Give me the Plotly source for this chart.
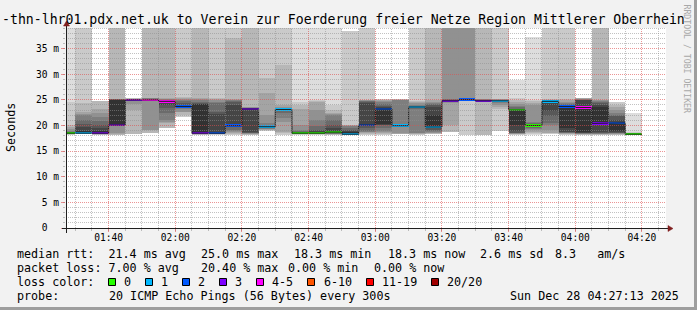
import math
from datetime import datetime, timedelta
import plotly.graph_objects as go

# ---------------- data ----------------
DAY = "2025-12-28"
T_START = "2025-12-28 01:27:13"
T_END = "2025-12-28 04:27:13"
STEP_MIN = 5
PINGS = 20
Y_MAX = 39.0

BIN_START = ["01:25", "01:30", "01:35", "01:40", "01:45", "01:50", "01:55",
             "02:00", "02:05", "02:10", "02:15", "02:20", "02:25", "02:30",
             "02:35", "02:40", "02:45", "02:50", "02:55", "03:00", "03:05",
             "03:10", "03:15", "03:20", "03:25", "03:30", "03:35", "03:40",
             "03:45", "03:50", "03:55", "04:00", "04:05", "04:10", "04:15"]

# received ping round-trip times per 5-minute step, ms, sorted (45 = off the top of the chart)
RTT = [
    [18.1, 18.2, 18.3, 18.3, 18.3, 18.4, 18.4, 18.4, 18.4, 18.4, 18.5, 18.5, 18.6, 18.8, 19.0, 19.3, 19.7, 20.1, 24.6, 45],
    [18.2, 18.3, 18.3, 18.3, 18.4, 18.4, 18.4, 18.4, 18.4, 18.5, 19.0, 19.6, 20.3, 21.0, 22.0, 22.3, 22.7, 24.3, 45],
    [18.1, 18.2, 18.3, 18.3, 18.4, 18.4, 18.4, 18.4, 18.5, 18.9, 19.5, 20.1, 20.8, 21.7, 22.5, 23.3, 24.8],
    [18.1, 18.1, 18.4, 18.5, 20.0, 20.1, 20.1, 20.1, 20.1, 25.0, 25.0, 25.1, 25.1, 25.1, 25.2, 25.2, 45],
    [18.2, 18.4, 23.0, 24.2, 24.7, 24.8, 24.9, 24.9, 24.95, 25.0, 25.0, 25.1, 25.1, 25.1, 25.2, 25.2, 25.3],
    [18.5, 19.1, 19.2, 24.8, 24.9, 24.9, 25.0, 25.0, 25.0, 25.1, 25.2, 25.2, 25.3, 25.3, 25.4, 45],
    [19.5, 20.4, 20.6, 21.0, 22.5, 23.4, 24.0, 24.4, 24.7, 24.8, 24.9, 25.0, 25.1, 25.2, 25.4, 45],
    [21.7, 22.0, 22.6, 22.7, 23.2, 23.4, 23.5, 23.6, 23.65, 23.7, 24.0, 24.4, 24.8, 25.0, 25.2, 25.3, 25.5, 45],
    [18.1, 18.2, 18.3, 18.3, 18.4, 18.4, 18.4, 18.45, 18.5, 24.1, 24.2, 24.3, 24.6, 24.9, 25.1, 25.3, 45],
    [18.2, 18.3, 18.3, 18.4, 18.4, 18.4, 18.45, 18.45, 18.5, 18.5, 22.3, 22.6, 24.3, 24.6, 25.0, 25.2, 25.3, 45],
    [18.2, 18.3, 18.6, 18.8, 18.9, 19.2, 19.6, 19.8, 19.9, 19.95, 24.0, 24.5, 24.7, 24.9, 25.0, 25.2, 37.0, 45],
    [18.1, 18.2, 18.3, 18.4, 18.5, 18.5, 18.6, 18.7, 23.2, 23.3, 23.3, 23.4, 23.4, 23.4, 23.5, 23.5, 45],
    [18.5, 18.9, 19.1, 19.2, 19.3, 19.4, 19.5, 19.6, 19.7, 19.75, 19.8, 19.9, 19.95, 20.1, 20.5, 22.0, 26.3, 29.2, 45],
    [18.1, 18.2, 18.5, 18.8, 20.7, 21.5, 22.4, 22.8, 23.0, 23.1, 23.15, 23.2, 23.2, 23.3, 23.4, 23.6, 23.9, 31.8, 45],
    [18.1, 18.2, 18.3, 18.3, 18.3, 18.4, 18.4, 18.4, 18.4, 18.45, 18.5, 18.6, 18.7, 18.9, 19.1, 20.1, 23.3, 24.0, 24.6, 45],
    [18.1, 18.2, 18.3, 18.3, 18.3, 18.4, 18.4, 18.4, 18.4, 18.5, 18.5, 18.9, 19.2, 19.8, 21.0, 23.0, 24.5, 24.8, 25.0, 45],
    [18.1, 18.2, 18.2, 18.3, 18.3, 18.4, 18.4, 18.5, 18.5, 18.6, 18.7, 19.5, 20.1, 21.0, 22.0, 22.3, 22.5, 23.0, 23.9, 45],
    [18.1, 18.1, 18.1, 18.2, 18.2, 18.2, 18.2, 18.3, 18.3, 18.3, 18.8, 19.0, 19.2, 19.5, 19.8, 19.9, 20.0, 20.1, 38.5],
    [18.2, 18.3, 18.5, 18.7, 18.8, 19.0, 19.5, 19.8, 20.0, 20.1, 24.4, 24.6, 24.7, 24.8, 24.9, 24.95, 25.0, 45],
    [18.1, 18.3, 18.5, 18.7, 19.0, 19.5, 20.0, 20.1, 20.3, 23.2, 23.5, 23.8, 24.2, 24.5, 24.7, 24.9, 25.0, 25.1],
    [18.2, 18.3, 18.4, 18.4, 18.5, 19.8, 19.85, 19.9, 19.9, 19.95, 20.0, 20.0, 20.1, 20.2, 24.9, 25.0, 25.0, 25.1, 25.2],
    [18.1, 18.2, 18.3, 18.4, 18.5, 18.6, 23.2, 23.4, 23.5, 23.6, 23.6, 23.65, 23.7, 23.8, 24.0, 24.3, 24.6, 24.8, 45],
    [18.1, 18.3, 18.4, 18.5, 18.6, 18.8, 19.0, 19.2, 19.5, 19.7, 22.0, 23.5, 23.9, 24.1, 24.3, 24.6, 25.0, 45, 45],
    [18.3, 18.8, 20.1, 24.4, 24.5, 24.6, 24.7, 24.75, 24.8, 24.9, 25.0, 25.0, 25.1, 25.2, 45, 45, 45],
    [18.2, 24.8, 24.85, 24.9, 24.95, 25.0, 25.0, 25.0, 25.0, 25.05, 25.1, 25.2, 25.3, 25.4, 45, 45, 45, 45],
    [18.1, 18.1, 24.5, 24.6, 24.7, 24.7, 24.75, 24.8, 24.8, 24.9, 24.9, 25.0, 25.0, 25.1, 25.1, 25.2, 45],
    [18.4, 19.0, 23.2, 23.6, 24.0, 24.4, 24.6, 24.7, 24.75, 24.8, 24.85, 24.9, 24.95, 25.0, 25.0, 25.1, 25.1, 25.2, 45],
    [18.1, 18.2, 18.3, 18.4, 18.4, 18.5, 18.5, 18.6, 19.0, 20.1, 23.0, 23.1, 23.3, 23.5, 23.8, 24.2, 24.6, 25.0, 25.3, 28.9],
    [18.1, 18.3, 18.5, 18.8, 19.1, 19.3, 19.5, 19.7, 19.8, 19.9, 20.0, 20.1, 20.2, 20.4, 20.6, 24.0, 24.4, 24.8, 25.0, 37.3],
    [18.2, 18.4, 18.5, 18.6, 19.2, 20.0, 20.5, 21.8, 22.8, 24.7, 24.8, 24.85, 24.9, 24.9, 24.95, 25.0, 25.0, 25.1, 45],
    [18.2, 18.3, 18.4, 18.5, 18.5, 18.6, 18.7, 18.8, 19.5, 23.7, 23.8, 24.0, 24.2, 24.4, 24.6, 24.9, 25.2, 45],
    [18.2, 18.3, 18.4, 18.4, 18.5, 18.5, 18.6, 18.8, 23.5, 24.9, 25.0, 25.0, 25.1, 25.2, 25.3, 25.4],
    [18.1, 18.2, 18.3, 18.4, 18.4, 18.5, 18.5, 18.7, 20.4, 23.5, 24.0, 24.4, 24.6, 24.8, 24.9, 25.0, 45],
    [18.1, 18.2, 18.3, 18.4, 18.5, 18.5, 18.6, 18.7, 19.0, 20.5, 21.0, 21.8, 22.0, 22.5, 23.0, 23.5, 24.0, 24.5],
    [18.1, 18.2, 18.2, 18.2, 18.3, 18.3, 18.3, 18.3, 18.3, 18.3, 18.3, 18.4, 18.4, 18.4, 18.5, 18.5, 18.6, 18.6, 18.7, 22.4],
]

LOSS_LABELS = ["0", "1", "2", "3", "4-5", "6-10", "11-19", "20/20"]
LOSS_MAX = [0, 1, 2, 3, 5, 10, 19, 20]
LOSS_COLORS = ["#26ff00", "#00b8ff", "#0059ff", "#7e00ff", "#ff00ff", "#ff5500", "#ff0000", "#a10000"]

X_TICKS = ["01:40", "02:00", "02:20", "02:40", "03:00", "03:20", "03:40", "04:00", "04:20"]
Y_TICKS = [0, 5, 10, 15, 20, 25, 30, 35]
Y_TICK_TEXT = ["0\u00a0\u00a0"] + [f"{v}\u00a0m" for v in Y_TICKS[1:]]

TITLE = "-thn-lhr01.pdx.net.uk to Verein zur Foerderung freier Netze Region Mittlerer Oberrhein"
Y_TITLE = "Seconds"
WATERMARK = "RRDTOOL / TOBI OETIKER"
STATS_RTT = ["median rtt:  21.4 ms avg", "25.0 ms max", "18.3 ms min", "18.3 ms now", "2.6 ms sd", "8.3   am/s"]
STATS_LOSS = ["packet loss: 7.00 % avg", "20.40 % max", "0.00 % min", "0.00 % now"]
LOSS_HEAD = "loss color:"
PROBE = ["probe:", "20 ICMP Echo Pings (56 Bytes) every 300s"]
STAMP = "Sun Dec 28 04:27:13 2025"

# ---------------- geometry / style ----------------
W, H = 697, 310
L, R, T, B = 66, 31, 28, 82
PW, PH = W - L - R, H - T - B
FONT = "DejaVu Sans Mono"
LEG_FS = 11.7
AX_FS = 9.6
CW = 7.05  # legend char advance

STATS_RTT_X = [16, 200, 293, 386.5, 479, 554]
STATS_LOSS_X = [16, 200, 287, 373]
PROBE_X = [16, 107.5]
LINE_BASE = [257.7, 271.7, 285.7, 299.6]


def nb(s):
    return s.replace(" ", "\u00a0")


def fx(p):  # pixel x -> paper
    return (p - L) / PW


def fy(p):  # pixel y -> paper
    return (T + PH - p) / PH


t0 = datetime.fromisoformat(T_START)
t1 = datetime.fromisoformat(T_END)


def xpix(t):
    return L + (t - t0).total_seconds() / (t1 - t0).total_seconds() * PW


def ypix(v):
    return T + PH - v / Y_MAX * PH


fig = go.Figure()

starts = [datetime.fromisoformat(f"{DAY} {s}:00") for s in BIN_START]
centers = [s + timedelta(minutes=STEP_MIN / 2) for s in starts]
ends = [s + timedelta(minutes=STEP_MIN) for s in starts]
bar_w = STEP_MIN * 60 * 1000

cps, medians, losses = [], [], []
for times in RTT:
    n = len(times)
    loss = PINGS - n
    lo = loss // 2
    cps.append([None] * lo + list(times) + [None] * (loss - lo))
    medians.append(times[n // 2])
    losses.append(loss)

# smoke: nested bands between the i-th fastest and i-th slowest ping
half = PINGS // 2
for ibot in range(1, half + 1):
    itop = PINGS + 1 - ibot
    g = int(190 / half * (half - ibot)) + 50
    xs, bs, hs = [], [], []
    for c, cp in zip(centers, cps):
        a, b = cp[ibot - 1], cp[itop - 1]
        if a is None or b is None:
            continue
        xs.append(c)
        bs.append(a)
        hs.append(b - a)
    if xs:
        fig.add_trace(go.Bar(x=xs, y=hs, base=bs, width=bar_w,
                             marker=dict(color=f"rgb({g},{g},{g})", line=dict(width=0)),
                             hoverinfo="skip", showlegend=False))

# median step line
mx, my = [], []
for s, e, m in zip(starts, ends, medians):
    mx += [s, e]
    my += [m, m]
fig.add_trace(go.Scatter(x=mx, y=my, mode="lines", line=dict(color="#202020", width=1),
                         hoverinfo="skip", showlegend=False))

# loss-coloured median marks
hw = 1.25 * Y_MAX / PH


def cat(loss):
    for i, m in enumerate(LOSS_MAX):
        if loss <= m:
            return i
    return len(LOSS_MAX) - 1


for ci, col in enumerate(LOSS_COLORS):
    idx = [k for k in range(len(RTT)) if cat(losses[k]) == ci]
    if not idx:
        continue
    fig.add_trace(go.Bar(x=[centers[k] for k in idx], y=[2 * hw] * len(idx),
                         base=[medians[k] - hw for k in idx], width=bar_w,
                         marker=dict(color=col, line=dict(width=0)),
                         hoverinfo="skip", showlegend=False))

shapes = []
GRID = "rgba(143,143,143,0.55)"
MGRID = "rgba(222,79,79,0.6)"
DASH = "1px,1px"

# horizontal grid
for v in range(1, int(Y_MAX) + 1):
    yp = math.floor(ypix(v)) + 0.5
    shapes.append(dict(type="line", xref="paper", yref="paper", x0=0, x1=1, y0=fy(yp), y1=fy(yp),
                       line=dict(color=MGRID if v % 5 == 0 else GRID, width=1, dash=DASH), layer="above"))
# vertical grid
t = datetime.fromisoformat(f"{DAY} 01:30:00")
while t < t1:
    xp = math.floor(xpix(t)) + 0.5
    shapes.append(dict(type="line", xref="paper", yref="paper", x0=fx(xp), x1=fx(xp), y0=0, y1=1,
                       line=dict(color=MGRID if t.minute % 20 == 0 else GRID, width=1, dash=DASH),
                       layer="above"))
    t += timedelta(minutes=STEP_MIN)

AXC = "#1f1f1f"
ARC = "rgb(128,31,31)"
# axes
shapes.append(dict(type="line", xref="paper", yref="paper", x0=fx(62), x1=fx(668), y0=fy(228.5), y1=fy(228.5),
                   line=dict(color=AXC, width=1), layer="above"))
shapes.append(dict(type="line", xref="paper", yref="paper", x0=fx(66.5), x1=fx(66.5), y0=fy(233), y1=fy(26),
                   line=dict(color=AXC, width=1), layer="above"))
shapes.append(dict(type="path", xref="paper", yref="paper",
                   path=f"M{fx(668)},{fy(225.5)} L{fx(673)},{fy(228.5)} L{fx(668)},{fy(231.5)} Z",
                   fillcolor=ARC, line=dict(color=ARC, width=0.5), layer="above"))
shapes.append(dict(type="path", xref="paper", yref="paper",
                   path=f"M{fx(63.5)},{fy(26)} L{fx(66.5)},{fy(21)} L{fx(69.5)},{fy(26)} Z",
                   fillcolor=ARC, line=dict(color=ARC, width=0.5), layer="above"))
# 3d frame
shapes.append(dict(type="rect", xref="paper", yref="paper", x0=fx(694), x1=fx(697), y0=fy(0), y1=fy(310),
                   fillcolor="#9e9e9e", line=dict(width=0), layer="above"))
shapes.append(dict(type="rect", xref="paper", yref="paper", x0=fx(0), x1=fx(697), y0=fy(307), y1=fy(310),
                   fillcolor="#9e9e9e", line=dict(width=0), layer="above"))

annotations = []


def text(s, x, y, size, anchor="left", angle=0, color="black", yanchor="middle"):
    annotations.append(dict(text=nb(s), x=fx(x), y=fy(y), xref="paper", yref="paper",
                            xanchor=anchor, yanchor=yanchor, showarrow=False, textangle=angle,
                            font=dict(family=FONT, size=size, color=color), borderpad=0))


def base_to_mid(b, fs):
    return b - 0.346 * fs


text(TITLE, 343.5, base_to_mid(24.2, 13.2), 13.2, anchor="center")
text(Y_TITLE, 11, 128, LEG_FS, anchor="center", angle=-90)
text(WATERMARK, 686.5, 59, 8.2, anchor="center", angle=90, color="#a8a8a8")

for s, x in zip(STATS_RTT, STATS_RTT_X):
    text(s, x, base_to_mid(LINE_BASE[0], LEG_FS), LEG_FS)
for s, x in zip(STATS_LOSS, STATS_LOSS_X):
    text(s, x, base_to_mid(LINE_BASE[1], LEG_FS), LEG_FS)
text(LOSS_HEAD, 16, base_to_mid(LINE_BASE[2], LEG_FS), LEG_FS)
bx = 108.0
for lab, col in zip(LOSS_LABELS, LOSS_COLORS):
    x0 = math.floor(bx) + 0.5
    shapes.append(dict(type="rect", xref="paper", yref="paper", x0=fx(x0), x1=fx(x0 + 7), y0=fy(278.5), y1=fy(285.5),
                       fillcolor=col, line=dict(color="black", width=1), layer="above"))
    lx = bx + 14.8
    text(lab, lx, base_to_mid(LINE_BASE[2], LEG_FS), LEG_FS)
    bx = lx + len(lab) * CW + 15.3
for s, x in zip(PROBE, PROBE_X):
    text(s, x, base_to_mid(LINE_BASE[3], LEG_FS), LEG_FS)
text(STAMP, 680, base_to_mid(LINE_BASE[3], LEG_FS), LEG_FS, anchor="right")

minor_x = []
t = datetime.fromisoformat(f"{DAY} 01:30:00")
while t < t1:
    minor_x.append(t)
    t += timedelta(minutes=STEP_MIN)

fig.update_layout(
    width=W, height=H, margin=dict(l=L, r=R, t=T, b=B, pad=0),
    paper_bgcolor="#f2f2f2", plot_bgcolor="white",
    barmode="overlay", bargap=0, showlegend=False,
    shapes=shapes, annotations=annotations,
    xaxis=dict(type="date", range=[T_START, T_END], showgrid=False, zeroline=False, showline=False,
               tickmode="array", tickvals=[f"{DAY} {x}:00" for x in X_TICKS], ticktext=X_TICKS,
               ticks="outside", ticklen=3, tickwidth=1, tickcolor=MGRID, ticklabelstandoff=-3,
               minor=dict(tickmode="array", tickvals=minor_x, ticks="outside", ticklen=2,
                          tickcolor=GRID, showgrid=False),
               tickfont=dict(family=FONT, size=AX_FS, color="black"), fixedrange=True),
    yaxis=dict(range=[0, Y_MAX], showgrid=False, zeroline=False, showline=False,
               tickmode="array", tickvals=Y_TICKS, ticktext=Y_TICK_TEXT,
               ticks="outside", ticklen=4, tickwidth=1, tickcolor=MGRID,
               minor=dict(tickmode="array", tickvals=list(range(1, int(Y_MAX) + 1)), ticks="outside",
                          ticklen=2, tickcolor=GRID, showgrid=False),
               tickfont=dict(family=FONT, size=AX_FS, color="black"), fixedrange=True),
)

fig.write_html("out.html", config={"displayModeBar": False})
